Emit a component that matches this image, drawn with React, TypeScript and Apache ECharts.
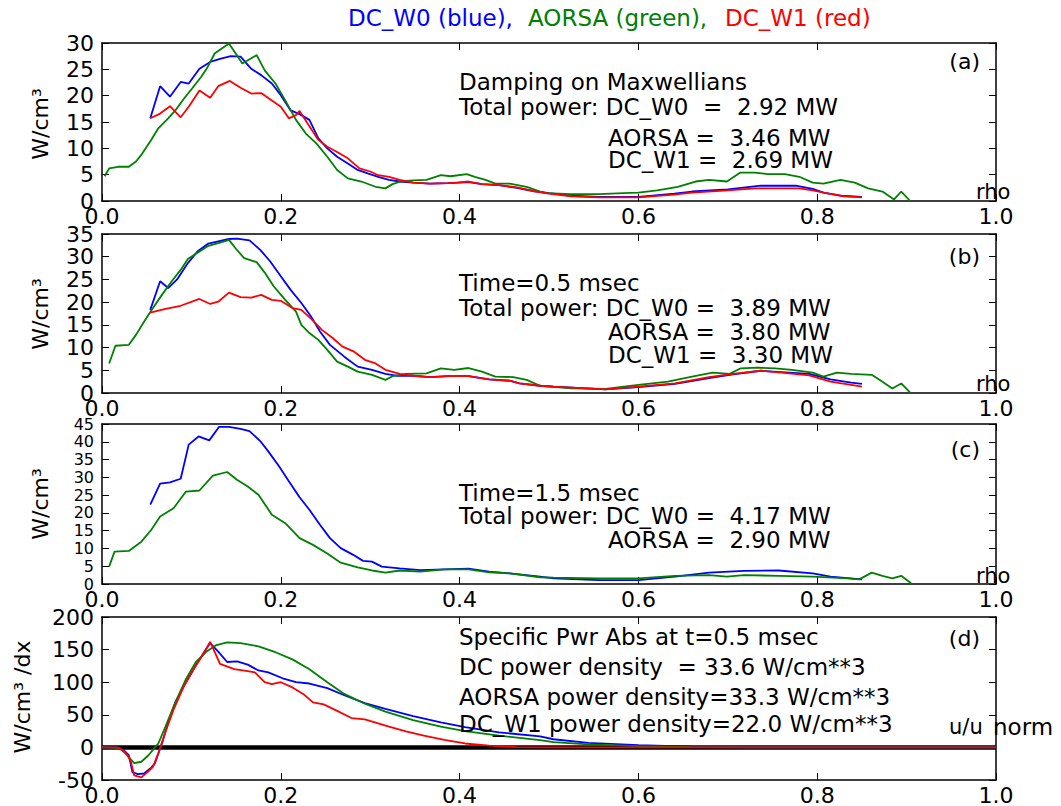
import React, { useEffect, useRef } from 'react';
import * as echarts from 'echarts';

type P = [number, number];

const xTicks = [0, 0.2, 0.4, 0.6, 0.8, 1.0];
const titleParts = ['DC_W0 (blue),', 'AORSA (green),', 'DC_W1 (red)'];

// Panel (a): Damping on Maxwellians
const aDCW0: P[] = [[0.054,15.7],[0.065,21.8],[0.076,19.8],[0.088,22.6],[0.097,22.3],[0.109,25.1],[0.121,26.4],[0.132,27.0],[0.144,27.5],[0.155,27.4],[0.167,25.1],[0.178,23.9],[0.19,22.3],[0.2,20.1],[0.211,17.2],[0.221,16.5],[0.232,15.4],[0.242,11.9],[0.252,10.0],[0.263,8.4],[0.275,7.1],[0.286,5.9],[0.298,5.2],[0.309,4.6],[0.321,4.0],[0.333,3.7],[0.348,3.5],[0.367,3.3],[0.387,3.4],[0.41,3.6],[0.425,3.2],[0.444,3.0],[0.464,2.5],[0.482,1.9],[0.5,1.5],[0.525,1.0],[0.556,0.8],[0.6,0.8],[0.64,1.4],[0.66,1.8],[0.7,2.2],[0.737,2.9],[0.776,2.9],[0.795,2.3],[0.807,1.6],[0.826,1.0],[0.85,0.8]];
const aAORSA: P[] = [[0.003,4.7],[0.008,6.2],[0.018,6.5],[0.03,6.5],[0.038,7.5],[0.045,9.0],[0.055,11.6],[0.063,13.8],[0.074,15.7],[0.082,17.2],[0.092,19.5],[0.101,21.4],[0.111,23.6],[0.117,25.1],[0.126,28.0],[0.142,29.9],[0.157,26.1],[0.173,27.7],[0.182,24.8],[0.194,22.3],[0.205,19.1],[0.217,15.4],[0.228,12.8],[0.24,10.9],[0.252,8.4],[0.263,5.9],[0.275,4.3],[0.29,3.7],[0.306,2.7],[0.317,2.4],[0.325,3.2],[0.334,3.7],[0.348,3.9],[0.363,4.0],[0.379,4.9],[0.39,4.7],[0.408,5.1],[0.417,4.6],[0.429,4.0],[0.44,3.3],[0.456,3.3],[0.475,2.7],[0.49,1.8],[0.497,1.5],[0.525,1.3],[0.556,1.3],[0.583,1.5],[0.6,1.6],[0.621,2.0],[0.644,2.7],[0.664,3.7],[0.679,4.0],[0.699,3.7],[0.714,5.4],[0.73,5.4],[0.745,5.1],[0.764,5.1],[0.78,4.6],[0.795,3.5],[0.807,3.3],[0.826,4.0],[0.842,3.5],[0.857,2.4],[0.873,1.8],[0.886,0.3],[0.894,1.8],[0.904,0]];
const aDCW1: P[] = [[0.054,15.7],[0.065,16.6],[0.076,18.0],[0.088,15.9],[0.097,17.9],[0.109,21.0],[0.121,19.6],[0.13,21.8],[0.143,22.8],[0.155,21.5],[0.167,20.4],[0.178,20.5],[0.19,19.1],[0.2,17.9],[0.209,15.7],[0.217,16.3],[0.221,17.1],[0.23,14.7],[0.242,11.6],[0.252,10.3],[0.263,9.3],[0.275,8.1],[0.288,6.2],[0.3,5.6],[0.309,4.9],[0.321,4.6],[0.333,4.0],[0.348,3.5],[0.367,3.3],[0.387,3.4],[0.398,3.5],[0.41,3.7],[0.425,3.2],[0.444,3.0],[0.464,2.6],[0.482,1.9],[0.5,1.4],[0.525,0.9],[0.556,0.7],[0.6,0.7],[0.64,1.2],[0.66,1.6],[0.7,2.0],[0.73,2.4],[0.78,2.4],[0.795,2.0],[0.81,1.5],[0.83,0.9],[0.85,0.7]];

// Panel (b): Time=0.5 msec
const bDCW0: P[] = [[0.054,18.3],[0.065,24.6],[0.074,23.1],[0.084,25.0],[0.096,28.6],[0.107,31.2],[0.119,32.9],[0.13,33.4],[0.142,33.9],[0.151,34.0],[0.165,33.6],[0.177,31.5],[0.188,29.0],[0.2,25.7],[0.211,22.7],[0.223,19.8],[0.234,16.8],[0.244,13.5],[0.255,10.6],[0.271,8.0],[0.286,5.8],[0.302,5.1],[0.317,4.2],[0.329,3.8],[0.348,3.8],[0.367,3.5],[0.387,3.7],[0.41,3.7],[0.433,3.0],[0.456,2.7],[0.467,2.1],[0.49,1.6],[0.505,1.4],[0.563,0.8],[0.6,1.3],[0.641,2.0],[0.679,3.3],[0.706,4.1],[0.737,4.9],[0.76,4.6],[0.791,4.2],[0.815,3.0],[0.838,2.3],[0.85,2.0]];
const bAORSA: P[] = [[0.008,6.5],[0.015,10.4],[0.03,10.6],[0.038,12.8],[0.047,15.7],[0.057,18.7],[0.067,21.6],[0.078,24.6],[0.088,27.1],[0.096,29.5],[0.107,30.9],[0.119,32.4],[0.132,33.1],[0.142,33.7],[0.15,31.7],[0.159,29.7],[0.173,28.8],[0.182,26.5],[0.192,23.5],[0.205,20.5],[0.217,17.9],[0.223,15.0],[0.232,13.2],[0.242,11.7],[0.252,9.5],[0.263,6.9],[0.275,5.8],[0.286,4.7],[0.302,4.0],[0.317,2.9],[0.325,3.7],[0.34,4.2],[0.363,4.3],[0.379,5.4],[0.394,5.1],[0.41,5.5],[0.425,4.7],[0.44,3.6],[0.46,3.5],[0.475,2.9],[0.49,1.6],[0.525,1.0],[0.563,0.9],[0.6,1.8],[0.633,2.5],[0.66,3.6],[0.683,4.5],[0.702,4.2],[0.714,5.4],[0.733,5.6],[0.753,5.4],[0.772,5.1],[0.795,4.5],[0.807,3.6],[0.822,4.5],[0.838,4.2],[0.861,4.0],[0.873,2.5],[0.884,1.0],[0.894,2.1],[0.904,0.1]];
const bDCW1: P[] = [[0.054,17.7],[0.071,18.5],[0.088,19.2],[0.109,20.7],[0.121,19.6],[0.13,20.1],[0.142,22.1],[0.155,21.1],[0.167,21.0],[0.178,21.6],[0.19,20.5],[0.2,20.3],[0.213,18.7],[0.223,18.3],[0.234,16.3],[0.246,13.9],[0.258,12.1],[0.269,10.2],[0.282,9.1],[0.294,7.3],[0.306,6.5],[0.317,5.1],[0.333,4.2],[0.348,3.8],[0.367,3.5],[0.387,3.7],[0.41,3.7],[0.433,3.0],[0.456,2.7],[0.467,2.1],[0.49,1.6],[0.505,1.4],[0.563,0.8],[0.6,1.4],[0.641,2.1],[0.679,3.5],[0.706,4.2],[0.737,4.9],[0.76,4.5],[0.791,3.9],[0.815,2.5],[0.838,1.8],[0.85,1.4]];

// Panel (c): Time=1.5 msec
const cDCW0: P[] = [[0.054,22.3],[0.065,28.2],[0.076,28.6],[0.088,29.6],[0.097,39.2],[0.108,41.5],[0.12,40.4],[0.131,44.2],[0.142,44.2],[0.155,43.6],[0.165,43.0],[0.177,40.2],[0.186,37.3],[0.198,33.1],[0.209,28.9],[0.221,24.4],[0.232,20.9],[0.244,16.6],[0.255,12.9],[0.267,10.1],[0.281,8.2],[0.292,6.5],[0.302,6.3],[0.313,4.9],[0.333,4.4],[0.356,3.9],[0.383,4.1],[0.41,4.3],[0.433,3.5],[0.456,3.0],[0.49,2.1],[0.505,1.6],[0.556,1.1],[0.6,1.1],[0.641,2.1],[0.679,3.2],[0.718,3.7],[0.757,3.8],[0.795,3.0],[0.815,2.1],[0.85,1.3]];
const cAORSA: P[] = [[0.008,4.9],[0.014,9.1],[0.03,9.3],[0.044,11.9],[0.055,15.2],[0.065,19.0],[0.08,21.3],[0.094,26.0],[0.109,26.3],[0.124,30.5],[0.14,31.5],[0.151,29.3],[0.163,27.4],[0.175,25.1],[0.19,19.5],[0.205,17.1],[0.221,12.9],[0.236,11.0],[0.252,8.6],[0.267,6.0],[0.286,4.7],[0.302,3.8],[0.317,3.2],[0.333,3.8],[0.356,3.5],[0.383,4.1],[0.41,4.1],[0.433,3.3],[0.456,3.0],[0.49,1.9],[0.505,1.8],[0.556,1.6],[0.6,1.6],[0.641,2.3],[0.679,2.5],[0.699,2.1],[0.718,2.5],[0.757,2.3],[0.795,2.1],[0.834,1.6],[0.847,1.3],[0.861,3.2],[0.873,2.3],[0.884,1.6],[0.894,2.3],[0.905,0.2]];

// Panel (d): Specific Pwr Abs at t=0.5 msec (x = u/u_norm)
const dDC: P[] = [[0,0],[0.017,0],[0.024,-4],[0.03,-12],[0.034,-38],[0.04,-41],[0.047,-40],[0.055,-31],[0.059,-25],[0.067,6],[0.074,37.5],[0.082,69],[0.094,100],[0.105,126],[0.117,152],[0.121,160],[0.13,147],[0.14,131],[0.151,132],[0.163,127],[0.175,118],[0.186,115],[0.202,106],[0.217,100],[0.232,98],[0.252,91],[0.271,80],[0.294,68],[0.317,59],[0.348,48],[0.379,38.5],[0.406,31],[0.444,23],[0.49,17],[0.505,12.5],[0.544,7],[0.6,3.6],[0.66,1],[0.72,0],[1.0,0]];
const dAORSA: P[] = [[0,0],[0.02,-1],[0.028,-12],[0.036,-24],[0.044,-22],[0.052,-12],[0.058,-2],[0.063,6],[0.071,32],[0.082,69],[0.094,105],[0.105,131],[0.117,147],[0.128,157],[0.14,161],[0.155,160],[0.175,155],[0.194,146],[0.213,135],[0.232,120],[0.252,100],[0.271,82],[0.294,67],[0.317,55],[0.348,42],[0.379,32],[0.406,25],[0.444,18],[0.49,11],[0.505,8],[0.544,4.5],[0.6,2],[0.66,0.5],[0.72,0],[1.0,0]];
const dDCW1: P[] = [[0,0],[0.017,0],[0.026,-7],[0.032,-20],[0.036,-43],[0.044,-46],[0.051,-38],[0.057,-30],[0.063,-9],[0.071,24],[0.08,58],[0.092,95],[0.103,121],[0.115,147],[0.121,162],[0.132,128],[0.148,120],[0.163,117],[0.171,115],[0.182,100],[0.19,97],[0.2,100],[0.213,92],[0.225,82],[0.236,69],[0.248,66],[0.263,56],[0.279,45],[0.294,43],[0.321,32],[0.34,24.5],[0.36,18],[0.383,11.5],[0.406,6],[0.433,2.6],[0.464,0.5],[0.5,0],[1.0,0]];
const dZero: P[] = [[0,0],[1,0]];

const yRanges = [
  { min: 0, max: 30, interval: 5 },
  { min: 0, max: 35, interval: 5 },
  { min: 0, max: 45, interval: 5 },
  { min: -50, max: 200, interval: 50 },
];
const yLabelSize = [22, 22, 16, 22];

const panelText = [
  [{ t: 'Damping on Maxwellians', x: 459, y: 82 }, { t: 'Total power: DC_W0  =  2.92 MW', x: 459, y: 107 }, { t: 'AORSA =  3.46 MW', x: 608, y: 138 }, { t: 'DC_W1 =  2.69 MW', x: 608, y: 160 }, { t: '(a)', x: 980, y: 61, r: true, s: 22 }, { t: 'rho', x: 976, y: 192, s: 21 }],
  [{ t: 'Time=0.5 msec', x: 459, y: 283 }, { t: 'Total power: DC_W0 =  3.89 MW', x: 459, y: 308 }, { t: 'AORSA =  3.80 MW', x: 608, y: 332 }, { t: 'DC_W1 =  3.30 MW', x: 608, y: 355 }, { t: '(b)', x: 980, y: 256, r: true, s: 22 }, { t: 'rho', x: 976, y: 384, s: 21 }],
  [{ t: 'Time=1.5 msec', x: 459, y: 493 }, { t: 'Total power: DC_W0 =  4.17 MW', x: 459, y: 516 }, { t: 'AORSA =  2.90 MW', x: 608, y: 540 }, { t: '(c)', x: 980, y: 449, r: true, s: 22 }, { t: 'rho', x: 976, y: 576, s: 21 }],
  [{ t: 'Specific Pwr Abs at t=0.5 msec', x: 459, y: 637 }, { t: 'DC power density  = 33.6 W/cm**3', x: 459, y: 667 }, { t: 'AORSA power density=33.3 W/cm**3', x: 459, y: 697 }, { t: 'DC_W1 power density=22.0 W/cm**3', x: 459, y: 724 }, { t: '(d)', x: 980, y: 638, r: true, s: 22 }, { t: 'u/u', x: 949, y: 727, s: 21 }, { t: 'norm', x: 993, y: 727, s: 23 }],
];

const yNames = ['W/cm³', 'W/cm³', 'W/cm³', 'W/cm³ /dx'];

const FONT = 'DejaVu Sans';
const BLUE = '#0000ff';
const GREEN = '#008000';
const RED = '#ff0000';

const grids = [
  { top: 43, height: 158 },
  { top: 234, height: 159 },
  { top: 424, height: 160 },
  { top: 617, height: 164 },
];
const yNamePos = [
  { x: 40, y: 124 },
  { x: 40, y: 314 },
  { x: 40, y: 504 },
  { x: 22, y: 697 },
];

export default function App() {
  const ref = useRef<HTMLDivElement>(null);
  useEffect(() => {
    if (!ref.current) return;
    const chart = echarts.init(ref.current, null, { renderer: 'svg' });
    const tick = { inside: true, length: 7, lineStyle: { color: '#000', width: 1 } };
    const line = { show: true, onZero: false, lineStyle: { color: '#000', width: 1.5 } };
    const xAxis: any[] = [];
    const yAxis: any[] = [];
    grids.forEach((_, i) => {
      const xb = {
        gridIndex: i, type: 'value', min: 0, max: 1, interval: 0.2,
        axisLine: line, axisTick: tick, splitLine: { show: false },
      };
      xAxis.push({ ...xb, position: 'bottom', axisLabel: { fontSize: 22, color: '#000', fontFamily: FONT, margin: 4, showMinLabel: true, showMaxLabel: true, formatter: (v: number) => (xTicks.includes(v) ? v.toFixed(1) : '') } });
      xAxis.push({ ...xb, position: 'top', axisLabel: { show: false } });
      const yb = { gridIndex: i, type: 'value', ...yRanges[i], axisLine: line, axisTick: tick, splitLine: { show: false } };
      yAxis.push({ ...yb, position: 'left', axisLabel: { fontSize: yLabelSize[i], color: '#000', fontFamily: FONT, margin: 8, showMinLabel: true, showMaxLabel: true } });
      yAxis.push({ ...yb, position: 'right', axisLabel: { show: false } });
    });
    const mk = (data: P[], color: string, gi: number, width = 1.8, z = 3) => ({
      type: 'line', data, xAxisIndex: gi * 2, yAxisIndex: gi * 2, showSymbol: false, symbol: 'none',
      lineStyle: { color, width }, itemStyle: { color }, z, silent: true, clip: true,
    });
    const series = [
      mk(aDCW0, BLUE, 0), mk(aAORSA, GREEN, 0), mk(aDCW1, RED, 0),
      mk(bDCW0, BLUE, 1), mk(bAORSA, GREEN, 1), mk(bDCW1, RED, 1),
      mk(cDCW0, BLUE, 2), mk(cAORSA, GREEN, 2),
      mk(dZero, '#000', 3, 4.5, 2), mk(dDC, BLUE, 3), mk(dAORSA, GREEN, 3), mk(dDCW1, RED, 3, 1.8, 4),
    ];
    const graphic: any[] = [];
    const titleX = [348, 528, 725];
    const titleC = [BLUE, GREEN, RED];
    titleParts.forEach((t, i) => graphic.push({ type: 'text', x: titleX[i], y: 18, style: { text: t, fill: titleC[i], fontSize: 23, fontFamily: FONT, align: 'left', verticalAlign: 'middle' } }));
    panelText.forEach((arr) => arr.forEach((o: any) => graphic.push({ type: 'text', x: o.x, y: o.y, z: 10, style: { text: o.t, fill: '#000', fontSize: o.s || 23, fontFamily: FONT, align: o.r ? 'right' : 'left', verticalAlign: 'middle' } })));
    yNames.forEach((t, i) => graphic.push({ type: 'text', x: yNamePos[i].x, y: yNamePos[i].y, rotation: Math.PI / 2, style: { text: t, fill: '#000', fontSize: 22, fontFamily: FONT, align: 'center', verticalAlign: 'middle' } }));
    chart.setOption({
      animation: false,
      backgroundColor: '#fff',
      textStyle: { fontFamily: FONT },
      grid: grids.map((g) => ({ left: 102, right: 65, top: g.top, height: g.height, containLabel: false })),
      xAxis, yAxis, series, graphic,
    });
    return () => chart.dispose();
  }, []);
  return <div ref={ref} style={{ position: 'absolute', left: 0, top: 0, width: 1061, height: 806 }} />;
}
